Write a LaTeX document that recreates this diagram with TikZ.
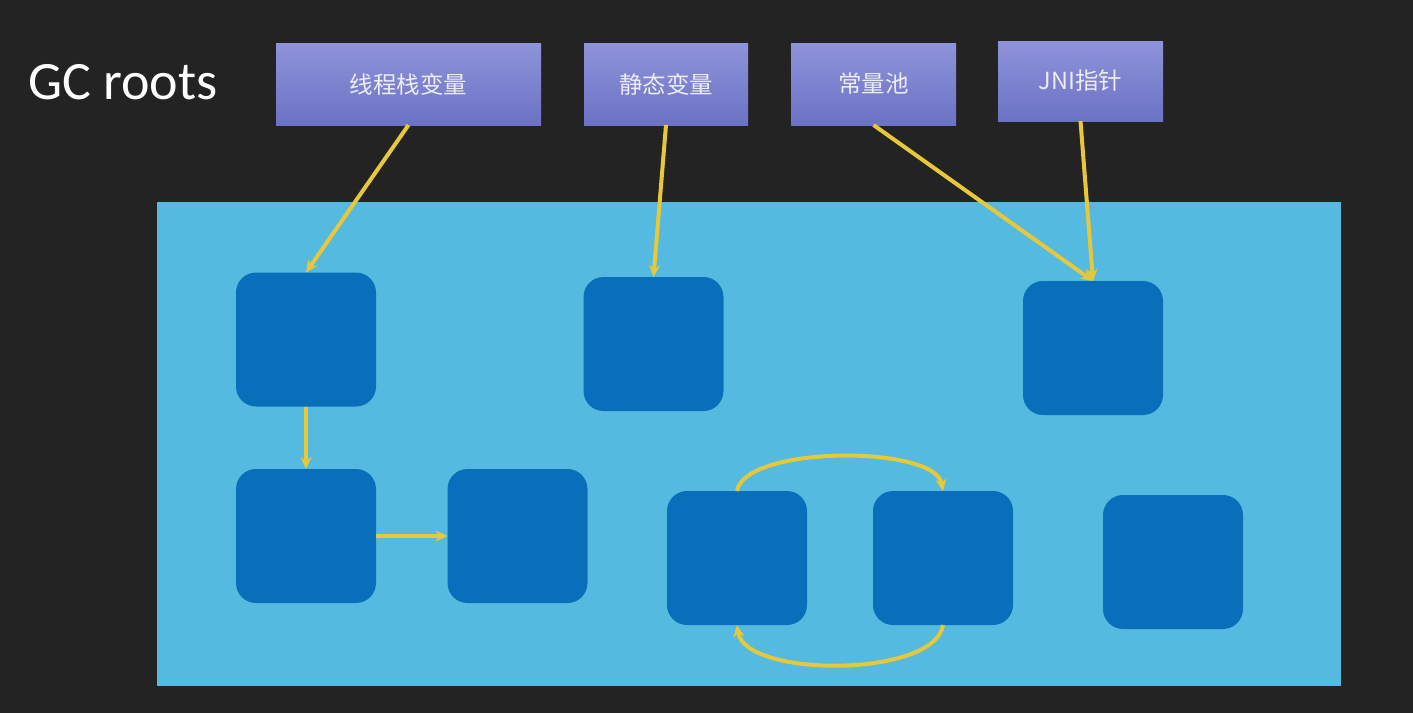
\documentclass[tikz,border=0pt]{standalone}
\usepackage{fontspec}
\setmainfont{Carlito}
\newfontfamily\cjk{Noto Sans CJK SC}
\usetikzlibrary{arrows.meta}
\definecolor{bgdark}{HTML}{232323}
\definecolor{heapblue}{HTML}{55BAE0}
\definecolor{objblue}{HTML}{0A6FBB}
\definecolor{roottop}{HTML}{8E93DA}
\definecolor{rootbot}{HTML}{6C72C4}
\definecolor{refyellow}{HTML}{E6C83A}
\definecolor{roottext}{HTML}{ECECF4}
\tikzset{
  rootbox/.style={rectangle, inner sep=0pt, outer sep=0pt, minimum height=82pt,
    top color=roottop, bottom color=rootbot, text=roottext, font=\cjk\fontsize{23.5}{26}\selectfont},
  objbox/.style={rectangle, rounded corners=20pt, inner sep=0pt, outer sep=0pt,
    minimum width=140pt, minimum height=134pt, fill=objblue},
  ref/.style={draw=refyellow, line width=4pt, -{Stealth[length=12pt,width=11pt]}},
}
\begin{document}
\begin{tikzpicture}[x=1pt,y=-1pt]
\useasboundingbox (0,0) rectangle (1413,713);
\fill[bgdark] (0,0) rectangle (1413,713);
\node[anchor=west, text=white, font=\fontsize{54}{62}\selectfont, inner sep=0pt] (title) at (28,82) {GC roots};
% GC roots
\node[rootbox, minimum width=265pt] (r1) at (408.5,84) {线程栈变量};
\node[rootbox, minimum width=164pt] (r2) at (666,84) {静态变量};
\node[rootbox, minimum width=165pt] (r3) at (873.5,84) {常量池};
\node[rootbox, minimum width=165pt, minimum height=80pt] (r4) at (1080.5,81) {JNI指针};
% heap
\node[rectangle, fill=heapblue, inner sep=0pt, minimum width=1184pt, minimum height=484pt] (heap) at (749,444) {};
% objects
\node[objbox] (A) at (306,339.5) {};
\node[objbox] (B) at (653.5,344) {};
\node[objbox] (C) at (1093,348) {};
\node[objbox] (D) at (306,536) {};
\node[objbox] (E) at (517.5,536) {};
\node[objbox] (F) at (737,558) {};
\node[objbox] (G) at (943,558) {};
\node[objbox] (H) at (1173,562) {};
% references
\draw[ref] (r1.south) -- (A.north);
\draw[ref] (r2.south) -- (B.north);
\draw[ref] (r3.south) -- (C.north);
\draw[ref] (r4.south) -- (C.north);
\draw[ref] (A.south) -- (D.north);
\draw[ref] (D.east) -- (E.west);
\draw[ref] (F.north) .. controls (745,445) and (935,445) .. (G.north);
\draw[ref] (G.south) .. controls (935,678) and (745,678) .. (F.south);
\end{tikzpicture}
\end{document}
